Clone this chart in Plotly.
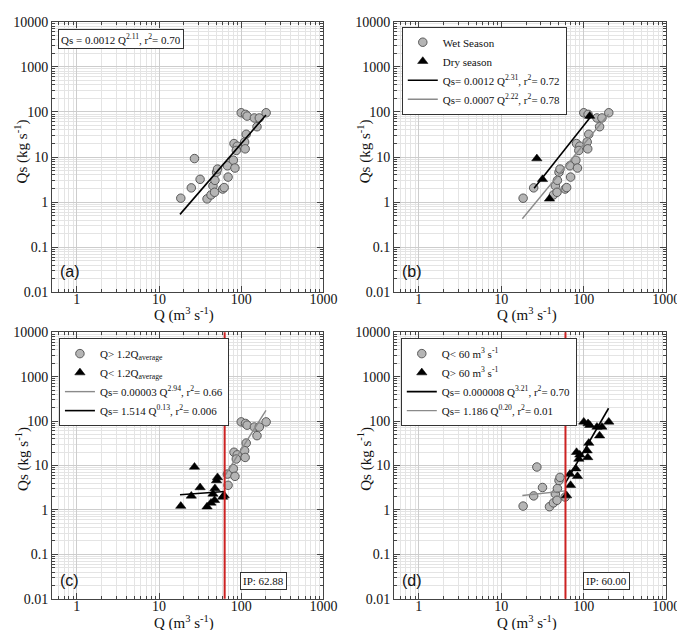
import numpy as np
import plotly.graph_objects as go

# ---------------- data ----------------
Q = [18.4, 24.7, 27.0, 31.6, 38.4, 42.9, 45.3, 47.4, 47.9, 50.1,
     51.5, 59.5, 62.0, 69.2, 67.9, 80.2, 83.9, 81.7, 89.5, 87.1,
     100.0, 112.7, 118.0, 115.0, 110.0, 111.7, 144.5, 155.6, 166.0, 201.0]
QS = [1.22, 2.07, 9.25, 3.2, 1.18, 1.44, 2.29, 1.65, 3.04, 4.6,
      5.4, 1.95, 2.1, 3.59, 6.4, 8.5, 5.7, 19.9, 17.4, 14.0,
      96.0, 88.5, 81.0, 32.0, 21.6, 15.2, 73.6, 47.0, 73.6, 96.0]
DRY = [0, 0, 1, 1, 1, 0, 0, 0, 0, 0,
       0, 0, 0, 0, 0, 0, 0, 0, 0, 0,
       0, 0, 1, 0, 0, 0, 0, 0, 0, 0]

IP_C = 62.88          # inflection point, panel (c)
IP_D = 60.00          # inflection point, panel (d)

# fitted power laws Qs = a * Q^b, drawn between q_min and q_max
FIT_ALL = [0.0012, 2.11, 18.0, 200.0]
FIT_DRY = [0.0012, 2.31, 25.0, 120.0]
FIT_WET = [0.0007, 2.22, 18.0, 200.0]
FIT_C_HIGH = [0.00003, 2.94, 63.0, 200.0]
FIT_C_LOW = [1.514, 0.13, 18.0, 63.0]
FIT_D_HIGH = [0.000008, 3.21, 60.0, 200.0]
FIT_D_LOW = [1.186, 0.20, 18.0, 60.0]

X_TICKS = [1, 10, 100, 1000]
Y_TICKS = [0.01, 0.1, 1, 10, 100, 1000, 10000]
X_TICK_TEXT = ["1", "10", "100", "1000"]
Y_TICK_TEXT = ["0.01", "0.1", "1", "10", "100", "1000", "10000"]

# ---------------- styling ----------------
W, H = 685, 630
SERIF = "Liberation Serif, Times New Roman, serif"
SANS = "Liberation Sans, Arial, sans-serif"
GRAY_FILL = "#b5b5b5"
GRAY_EDGE = "#5a5a5a"
GRAY_LINE = "#8a8a8a"

circle = dict(symbol="circle", size=8.5, color=GRAY_FILL, line=dict(color=GRAY_EDGE, width=1))
tri = dict(symbol="triangle-up", size=9, color="black", line=dict(color="black", width=0.5))


def fit_line(fit):
    a, b, q0, q1 = fit
    q = np.array([q0, q1])
    return q, a * q ** b


fig = go.Figure()

# ----- panel (a)
fig.add_trace(go.Scatter(x=Q, y=QS, mode="markers", marker=circle, showlegend=False,
                         xaxis="x", yaxis="y"))
qx, qy = fit_line(FIT_ALL)
fig.add_trace(go.Scatter(x=qx, y=qy, mode="lines", line=dict(color="black", width=1.6),
                         showlegend=False, xaxis="x", yaxis="y"))

# ----- panel (b)
wq = [q for q, d in zip(Q, DRY) if not d]
ws = [s for s, d in zip(QS, DRY) if not d]
dq = [q for q, d in zip(Q, DRY) if d]
ds = [s for s, d in zip(QS, DRY) if d]
fig.add_trace(go.Scatter(x=wq, y=ws, mode="markers", marker=circle, name="Wet Season",
                         legend="legend", xaxis="x2", yaxis="y2"))
fig.add_trace(go.Scatter(x=dq, y=ds, mode="markers", marker=tri, name="Dry season",
                         legend="legend", xaxis="x2", yaxis="y2"))
qx, qy = fit_line(FIT_DRY)
fig.add_trace(go.Scatter(x=qx, y=qy, mode="lines", line=dict(color="black", width=1.6),
                         name="Qs= 0.0012 Q<sup>2.31</sup>, r<sup>2</sup>= 0.72",
                         legend="legend", xaxis="x2", yaxis="y2"))
qx, qy = fit_line(FIT_WET)
fig.add_trace(go.Scatter(x=qx, y=qy, mode="lines", line=dict(color=GRAY_LINE, width=1.4),
                         name="Qs= 0.0007 Q<sup>2.22</sup>, r<sup>2</sup>= 0.78",
                         legend="legend", xaxis="x2", yaxis="y2"))

# ----- panel (c)
hq = [q for q in Q if q > IP_C]
hs = [s for q, s in zip(Q, QS) if q > IP_C]
lq = [q for q in Q if q <= IP_C]
ls = [s for q, s in zip(Q, QS) if q <= IP_C]
fig.add_trace(go.Scatter(x=hq, y=hs, mode="markers", marker=circle,
                         name="Q> 1.2Q<sub>average</sub>", legend="legend2",
                         xaxis="x3", yaxis="y3"))
fig.add_trace(go.Scatter(x=lq, y=ls, mode="markers", marker=tri,
                         name="Q< 1.2Q<sub>average</sub>", legend="legend2",
                         xaxis="x3", yaxis="y3"))
qx, qy = fit_line(FIT_C_HIGH)
fig.add_trace(go.Scatter(x=qx, y=qy, mode="lines", line=dict(color=GRAY_LINE, width=1.4),
                         name="Qs= 0.00003 Q<sup>2.94</sup>, r<sup>2</sup>= 0.66",
                         legend="legend2", xaxis="x3", yaxis="y3"))
qx, qy = fit_line(FIT_C_LOW)
fig.add_trace(go.Scatter(x=qx, y=qy, mode="lines", line=dict(color="black", width=1.6),
                         name="Qs= 1.514 Q<sup>0.13</sup>, r<sup>2</sup>= 0.006",
                         legend="legend2", xaxis="x3", yaxis="y3"))

# ----- panel (d)
lq = [q for q in Q if q < IP_D]
ls = [s for q, s in zip(Q, QS) if q < IP_D]
hq = [q for q in Q if q >= IP_D]
hs = [s for q, s in zip(Q, QS) if q >= IP_D]
fig.add_trace(go.Scatter(x=lq, y=ls, mode="markers", marker=circle,
                         name="Q< 60 m<sup>3</sup> s<sup>-1</sup>", legend="legend3",
                         xaxis="x4", yaxis="y4"))
fig.add_trace(go.Scatter(x=hq, y=hs, mode="markers", marker=tri,
                         name="Q> 60 m<sup>3</sup> s<sup>-1</sup>", legend="legend3",
                         xaxis="x4", yaxis="y4"))
qx, qy = fit_line(FIT_D_HIGH)
fig.add_trace(go.Scatter(x=qx, y=qy, mode="lines", line=dict(color="black", width=1.6),
                         name="Qs= 0.000008 Q<sup>3.21</sup>, r<sup>2</sup>= 0.70",
                         legend="legend3", xaxis="x4", yaxis="y4"))
qx, qy = fit_line(FIT_D_LOW)
fig.add_trace(go.Scatter(x=qx, y=qy, mode="lines", line=dict(color=GRAY_LINE, width=1.4),
                         name="Qs= 1.186 Q<sup>0.20</sup>, r<sup>2</sup>= 0.01",
                         legend="legend3", xaxis="x4", yaxis="y4"))

# ---------------- axes ----------------
XD_L = [45 / W, 322 / W]
XD_R = [394 / W, 672 / W]
YD_T = [1 - 284 / H, 1 - 7 / H]
YD_B = [1 - 598 / H, 1 - 325 / H]

tickfont = dict(family=SERIF, size=14, color="#111")
minor = dict(dtick="D1", ticks="inside", ticklen=3, tickcolor="#444",
             showgrid=True, gridcolor="#e4e4e4", gridwidth=1)


def xa(domain, anchor):
    return dict(type="log", domain=domain, anchor=anchor,
                range=[np.log10(0.5), 3], tickmode="array", tickvals=X_TICKS,
                ticktext=X_TICK_TEXT, ticks="inside", ticklen=6, tickcolor="#444",
                mirror="allticks", showline=True, linecolor="#444", linewidth=1,
                showgrid=True, gridcolor="#cdcdcd", gridwidth=1, zeroline=False,
                tickfont=tickfont, minor=minor, ticklabelstandoff=-6)


def ya(domain, anchor):
    return dict(type="log", domain=domain, anchor=anchor,
                range=[-2, 4], tickmode="array", tickvals=Y_TICKS,
                ticktext=Y_TICK_TEXT, ticks="inside", ticklen=6, tickcolor="#444",
                mirror="allticks", showline=True, linecolor="#444", linewidth=1,
                showgrid=True, gridcolor="#cdcdcd", gridwidth=1, zeroline=False,
                tickfont=tickfont, minor=minor)


legend_common = dict(font=dict(family=SERIF, size=11, color="#111"),
                     bgcolor="white", bordercolor="#333", borderwidth=1,
                     xanchor="left", yanchor="top", itemwidth=30,
                     tracegroupgap=0)

fig.update_layout(
    width=W, height=H,
    margin=dict(l=0, r=0, t=0, b=0),
    paper_bgcolor="white", plot_bgcolor="white",
    xaxis=xa(XD_L, "y"), yaxis=ya(YD_T, "x"),
    xaxis2=xa(XD_R, "y2"), yaxis2=ya(YD_T, "x2"),
    xaxis3=xa(XD_L, "y3"), yaxis3=ya(YD_B, "x3"),
    xaxis4=xa(XD_R, "y4"), yaxis4=ya(YD_B, "x4"),
    legend=dict(x=402 / W, y=1 - 12 / H, **legend_common),
    legend2=dict(x=52 / W, y=1 - 331 / H, **legend_common),
    legend3=dict(x=401 / W, y=1 - 331 / H, **legend_common),
)

# inflection-point vertical lines
for ip, xr, yr in [(IP_C, "x3", "y3 domain"), (IP_D, "x4", "y4 domain")]:
    fig.add_shape(type="line", xref=xr, yref=yr, x0=ip, x1=ip, y0=0, y1=1,
                  line=dict(color="#cc2222", width=2))

# ---------------- annotations ----------------
ann = []
title_font = dict(family=SERIF, size=15, color="#111")
for cx, cy in [(180, 307), (530, 307), (180, 622), (530, 622)]:
    ann.append(dict(text="Q (m<sup>3</sup> s<sup>-1</sup>)", x=cx / W, y=1 - cy / H,
                    xref="paper", yref="paper", showarrow=False, font=title_font,
                    xanchor="center", yanchor="middle"))
for cx, cy in [(14, 140), (364, 140), (14, 455), (364, 455)]:
    ann.append(dict(text="Qs (kg s<sup>-1</sup>)", x=cx / W, y=1 - cy / H,
                    xref="paper", yref="paper", showarrow=False, font=title_font,
                    textangle=-90, xanchor="center", yanchor="middle"))
for lab, cx, cy in [("(a)", 63, 263), ("(b)", 412, 263), ("(c)", 63, 579), ("(d)", 412, 579)]:
    ann.append(dict(text=lab, x=cx / W, y=1 - cy / H, xref="paper", yref="paper",
                    showarrow=False, font=dict(family=SANS, size=16, color="#111"),
                    xanchor="center", yanchor="middle"))
# equation box of panel (a)
ann.append(dict(text="Qs = 0.0012 Q<sup>2.11</sup>, r<sup>2</sup>= 0.70",
                x=51 / W, y=1 - 14 / H, xref="paper", yref="paper", showarrow=False,
                xanchor="left", yanchor="top", font=dict(family=SERIF, size=11, color="#111"),
                bordercolor="#333", borderwidth=1, borderpad=2, bgcolor="white"))
# IP boxes
for txt, cx in [("IP: %.2f" % IP_C, 261), ("IP: %.2f" % IP_D, 611)]:
    ann.append(dict(text=txt, x=cx / W, y=1 - 580 / H, xref="paper", yref="paper",
                    showarrow=False, xanchor="center", yanchor="middle",
                    font=dict(family=SERIF, size=11, color="#111"),
                    bordercolor="#333", borderwidth=1, borderpad=2, bgcolor="white"))
fig.update_layout(annotations=ann)

fig.write_html("out.html")
